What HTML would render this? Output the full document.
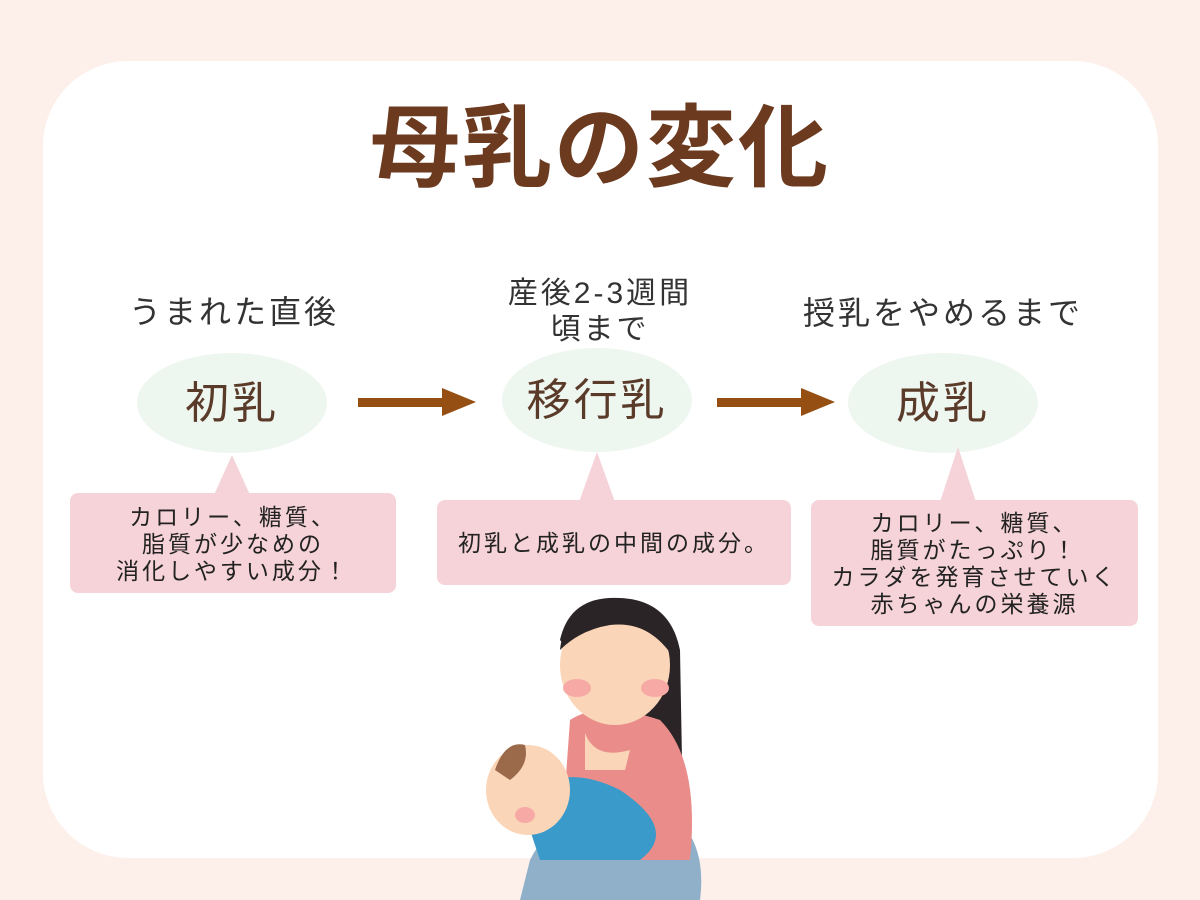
<!DOCTYPE html>
<html><head><meta charset="utf-8"><style>
body{margin:0;width:1200px;height:900px;background:#fdf0ea;position:relative;overflow:hidden;font-family:"Liberation Sans","Noto Sans CJK JP",sans-serif}
.card{position:absolute;left:43px;top:61px;width:1115px;height:797px;background:#fff;border-radius:85px}
.t{position:absolute;text-align:center;white-space:nowrap}
.l{font-size:32px;line-height:40px;color:#333;letter-spacing:3px}
.b{font-size:23px;line-height:27px;color:#222;letter-spacing:3px}
.e{font-size:44px;line-height:48px;color:#5a3b2a;letter-spacing:3px}
</style></head><body>
<div class="card"></div>
<svg width="1200" height="900" style="position:absolute;left:0;top:0">
<ellipse cx="232" cy="403" rx="95" ry="50" fill="#eef6f0"/>
<ellipse cx="597" cy="400" rx="95" ry="52" fill="#eef6f0"/>
<ellipse cx="943" cy="403" rx="95" ry="50" fill="#eef6f0"/>
<rect x="358" y="398" width="85" height="9" fill="#954f12"/><polygon points="442,388 476,402 442,416" fill="#954f12"/>
<rect x="717" y="398" width="85" height="9" fill="#954f12"/><polygon points="801,388 835,402 801,416" fill="#954f12"/>
<polygon points="232,455 214,495 250,495" fill="#f5d3d8"/><rect x="70" y="493" width="326" height="100" rx="8" fill="#f5d3d8"/>
<polygon points="597,452 579,502 615,502" fill="#f5d3d8"/><rect x="437" y="500" width="354" height="85" rx="8" fill="#f5d3d8"/>
<polygon points="958,447 940,502 976,502" fill="#f5d3d8"/><rect x="811" y="500" width="327" height="126" rx="8" fill="#f5d3d8"/>
<path d="M560 640 Q570 595 620 598 Q670 600 680 650 L682 760 L660 760 Z" fill="#2b2426"/>
<path d="M530 860 Q560 800 640 800 Q710 820 700 900 L520 900 Z" fill="#8fb0c8"/>
<path d="M570 720 Q600 700 660 720 Q700 760 690 860 L560 860 Z" fill="#e98c8a"/>
<ellipse cx="615" cy="665" rx="55" ry="60" fill="#fbd5b8"/>
<path d="M560 650 Q565 600 620 600 Q675 605 675 660 Q650 620 610 625 Q580 630 560 650Z" fill="#2b2426"/>
<ellipse cx="577" cy="688" rx="14" ry="9" fill="#f7a9a6"/><ellipse cx="655" cy="688" rx="14" ry="9" fill="#f7a9a6"/>
<path d="M585 733 Q595 760 630 750 L625 770 L585 770Z" fill="#fbd5b8"/>
<path d="M520 800 Q560 760 620 790 Q680 830 640 860 L540 860 Z" fill="#3a9ac9"/>
<ellipse cx="528" cy="790" rx="42" ry="45" fill="#fbd5b8"/>
<path d="M495 770 Q505 740 525 745 Q530 765 510 780Z" fill="#9a6a4a"/>
<ellipse cx="525" cy="815" rx="10" ry="8" fill="#f7a9a6"/>
</svg>
<div class="t" style="left:0;width:1200px;top:94px;font-size:90px;font-weight:bold;color:#6b3a1f;line-height:110px;letter-spacing:2px">母乳の変化</div>
<div class="t l" style="left:84px;width:300px;top:292px">うまれた直後</div>
<div class="t l" style="left:450px;width:300px;top:276px;font-size:30px;line-height:36px">産後2-3週間<br>頃まで</div>
<div class="t l" style="left:793px;width:300px;top:293px">授乳をやめるまで</div>
<div class="t e" style="left:132px;width:200px;top:380px">初乳</div>
<div class="t e" style="left:497px;width:200px;top:377px">移行乳</div>
<div class="t e" style="left:843px;width:200px;top:380px">成乳</div>
<div class="t b" style="left:70px;width:326px;top:504px">カロリー、糖質、<br>脂質が少なめの<br>消化しやすい成分！</div>
<div class="t b" style="left:437px;width:354px;top:530px">初乳と成乳の中間の成分。</div>
<div class="t b" style="left:811px;width:327px;top:510px">カロリー、糖質、<br>脂質がたっぷり！<br>カラダを発育させていく<br>赤ちゃんの栄養源</div>
</body></html>
